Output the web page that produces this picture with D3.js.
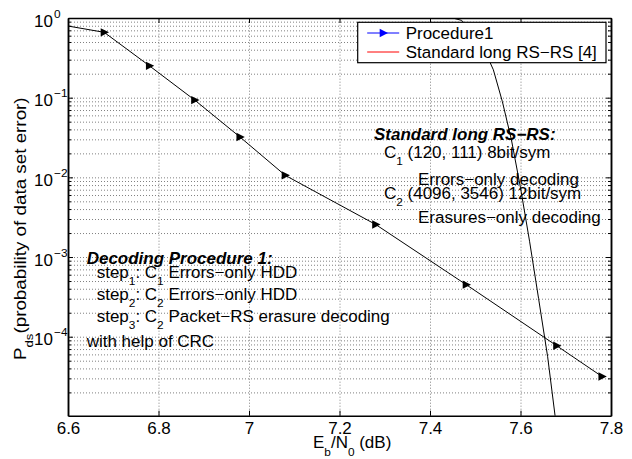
<!DOCTYPE html>
<html>
<head>
<meta charset="utf-8">
<script src="https://cdn.jsdelivr.net/npm/d3@7"></script>
<style>
body { margin: 0; background: #fff; }
svg { font-family: "Liberation Sans", Arial, sans-serif; }
</style>
</head>
<body>
<svg id="chart" width="632" height="459"></svg>
<script>
// Procedure1 (first point sits just left of the axis and is clipped)
var ebn0Proc = [6.58, 6.68, 6.78, 6.88, 6.98, 7.08, 7.28, 7.48, 7.68, 7.78];
var pdsProc = [0.83, 0.661, 0.251, 0.0933, 0.0321, 0.0106, 0.00256, 0.00045, 0.000077, 0.0000317];

// Standard long RS-RS [4]
var ebn0Std = [7.45, 7.47, 7.50, 7.52, 7.54, 7.56, 7.58, 7.60, 7.62, 7.64, 7.66, 7.68];
var pdsStd = [1.0, 0.933, 0.60, 0.40, 0.224, 0.089, 0.0295, 0.0074, 0.00158, 0.0003, 0.000056, 0.000007];

var xTicks = [6.6, 6.8, 7, 7.2, 7.4, 7.6, 7.8];
var xTickLabels = ["6.6", "6.8", "7", "7.2", "7.4", "7.6", "7.8"];
var yTickExps = [0, -1, -2, -3, -4];
var yTickSups = ["0", "\u22121", "\u22122", "\u22123", "\u22124"];

var legendNames = ["Procedure1", "Standard long RS\u2212RS [4]"];

var svg = d3.select("#chart");
var plot = { l: 68, t: 18, r: 611, b: 415.7 };
var fs = 16.5;
var subFs = 11.5;
var sx = 1.03; // text in the reference is a touch wider than Liberation Sans

var xScale = d3.scaleLinear().domain([6.6, 7.8]).range([plot.l, plot.r]);
var yScale = d3.scaleLog().domain([1.02e-5, 1]).range([plot.b, plot.t]);

var yMajor = yTickExps.map(e => Math.pow(10, e));
var yMinor = [];
[-5, -4, -3, -2, -1].forEach(function (e) {
    for (var m = 2; m <= 9; m++) {
        var v = m * Math.pow(10, e);
        if (v > yScale.domain()[0]) yMinor.push(v);
    }
});

// text with sub/superscripts, stretched horizontally
function richText(parent, transform, parts) {
    var t = parent.append("text")
        .attr("transform", transform)
        .style("font-size", fs + "px");
    var shift = 0;
    parts.forEach(function (p) {
        var s = typeof p === "string" ? { t: p, v: 0 } : p;
        var ts = t.append("tspan").attr("dy", s.v - shift).text(s.t);
        if (s.v) ts.style("font-size", subFs + "px");
        shift = s.v;
    });
    return t;
}

// grid
var grid = svg.append("g").attr("class", "grid");
grid.append("g")
    .attr("transform", `translate(0,${plot.b})`)
    .call(d3.axisBottom(xScale).tickValues(xTicks.slice(1, -1)).tickSize(-(plot.b - plot.t)).tickFormat(""));
grid.append("g")
    .attr("transform", `translate(${plot.l},0)`)
    .call(d3.axisLeft(yScale).tickValues(yMajor.slice(1).concat(yMinor)).tickSize(-(plot.r - plot.l)).tickFormat(""));
grid.selectAll(".domain").remove();
grid.selectAll("line").attr("stroke", "#808080").attr("stroke-dasharray", "1,2");

// data
svg.append("clipPath").attr("id", "clip")
    .append("rect")
    .attr("x", plot.l).attr("y", plot.t)
    .attr("width", plot.r - plot.l).attr("height", plot.b - plot.t);

var line = d3.line().x(d => xScale(d[0])).y(d => yScale(d[1]));
var procData = d3.zip(ebn0Proc, pdsProc);
var stdData = d3.zip(ebn0Std, pdsStd);

var dataG = svg.append("g").attr("clip-path", "url(#clip)");
dataG.append("path").datum(procData)
    .attr("d", line).attr("fill", "none").attr("stroke", "#000").attr("stroke-width", 1);
dataG.append("path").datum(stdData)
    .attr("d", line).attr("fill", "none").attr("stroke", "#000").attr("stroke-width", 1);

var triangle = "M-3.5,-4.2L4.8,0L-3.5,4.2Z";
dataG.selectAll(".marker")
    .data(procData.filter(d => d[0] >= 6.6))
    .enter().append("path")
    .attr("class", "marker")
    .attr("d", triangle)
    .attr("transform", d => `translate(${xScale(d[0])},${yScale(d[1])})`)
    .attr("fill", "#000");

// axes
var axes = svg.append("g").attr("class", "axes");
var xb = axes.append("g").attr("transform", `translate(0,${plot.b})`)
    .call(d3.axisBottom(xScale).tickValues(xTicks).tickSize(-5).tickSizeOuter(0).tickPadding(6.5)
        .tickFormat((d, i) => xTickLabels[i]));
xb.selectAll("text").attr("transform", `scale(${sx},1)`).style("font-size", fs + "px");

axes.append("g").attr("transform", `translate(0,${plot.t})`)
    .call(d3.axisTop(xScale).tickValues(xTicks).tickSize(-5).tickSizeOuter(0).tickFormat(""));

var yl = axes.append("g").attr("transform", `translate(${plot.l},0)`)
    .call(d3.axisLeft(yScale).tickValues(yMajor).tickSize(-5).tickSizeOuter(0).tickPadding(15).tickFormat(() => "10"));
yl.selectAll("text").attr("x", -15 / sx).attr("dy", "0.5em")
    .attr("transform", `scale(${sx},1)`).style("font-size", fs + "px");
yl.selectAll(".tick").append("text")
    .attr("x", -14 / sx).attr("y", -1)
    .attr("transform", `scale(${sx},1)`)
    .attr("text-anchor", "start")
    .attr("fill", "#000")
    .style("font-size", subFs + "px")
    .text((d, i) => yTickSups[i]);

axes.append("g").attr("transform", `translate(${plot.l},0)`)
    .call(d3.axisLeft(yScale).tickValues(yMinor).tickSize(-3).tickSizeOuter(0).tickFormat(""));
axes.append("g").attr("transform", `translate(${plot.r},0)`)
    .call(d3.axisRight(yScale).tickValues(yMajor).tickSize(-5).tickSizeOuter(0).tickFormat(""));
axes.append("g").attr("transform", `translate(${plot.r},0)`)
    .call(d3.axisRight(yScale).tickValues(yMinor).tickSize(-3).tickSizeOuter(0).tickFormat(""));

axes.selectAll(".domain").attr("stroke-width", 1.5);

// axis labels
richText(svg, `translate(313,448.3) scale(${sx},1)`, ["E", { t: "b", v: 8 }, "/N", { t: "0", v: 8 }, " (dB)"]);
richText(svg, "translate(25.5,360) rotate(-90) scale(1.14,1)", ["P", { t: "ds", v: 7 }, "(probability of data set error)"]);

// annotations
var notes = svg.append("g");
richText(notes, `translate(374,140) scale(${sx},1)`, ["Standard long RS\u2212RS:"])
    .style("font-weight", "bold").style("font-style", "italic");
richText(notes, `translate(384,158.3) scale(${sx},1)`, ["C", { t: "1", v: 7 }, " (120, 111) 8bit/sym"]);
richText(notes, `translate(418,185) scale(${sx},1)`, ["Errors\u2212only decoding"]);
richText(notes, `translate(384,199) scale(${sx},1)`, ["C", { t: "2", v: 7 }, " (4096, 3546) 12bit/sym"]);
richText(notes, `translate(418,223.3) scale(${sx},1)`, ["Erasures\u2212only decoding"]);

richText(notes, `translate(86.7,264.3) scale(${sx},1)`, ["Decoding Procedure 1:"])
    .style("font-weight", "bold").style("font-style", "italic");
richText(notes, `translate(96.7,278.3) scale(${sx},1)`, ["step", { t: "1", v: 7 }, ": C", { t: "1", v: 7 }, " Errors\u2212only HDD"]);
richText(notes, `translate(96.7,300) scale(${sx},1)`, ["step", { t: "2", v: 7 }, ": C", { t: "2", v: 7 }, " Errors\u2212only HDD"]);
richText(notes, `translate(96.7,321.7) scale(${sx},1)`, ["step", { t: "3", v: 7 }, ": C", { t: "2", v: 7 }, " Packet\u2212RS erasure decoding"]);
richText(notes, `translate(86.7,346.7) scale(${sx},1)`, ["with help of CRC"]);

// legend
var legend = svg.append("g").attr("transform", "translate(357.7,22.3)");
legend.append("rect")
    .attr("width", 248.3).attr("height", 40.4)
    .attr("fill", "#fff").attr("stroke", "#000").attr("stroke-width", 1.2);
var legendColors = ["#0000ff", "#ff0000"];
legendNames.forEach(function (name, i) {
    var row = legend.append("g").attr("transform", `translate(0,${10.7 + i * 19})`);
    row.append("line").attr("x1", 9.5).attr("x2", 41.5)
        .attr("stroke", legendColors[i]).attr("stroke-width", 1);
    if (i === 0) row.append("path").attr("d", triangle).attr("transform", "translate(25.5,0)").attr("fill", legendColors[i]);
    richText(row, `translate(48,5.6) scale(${sx},1)`, [name]);
});
</script>
</body>
</html>
